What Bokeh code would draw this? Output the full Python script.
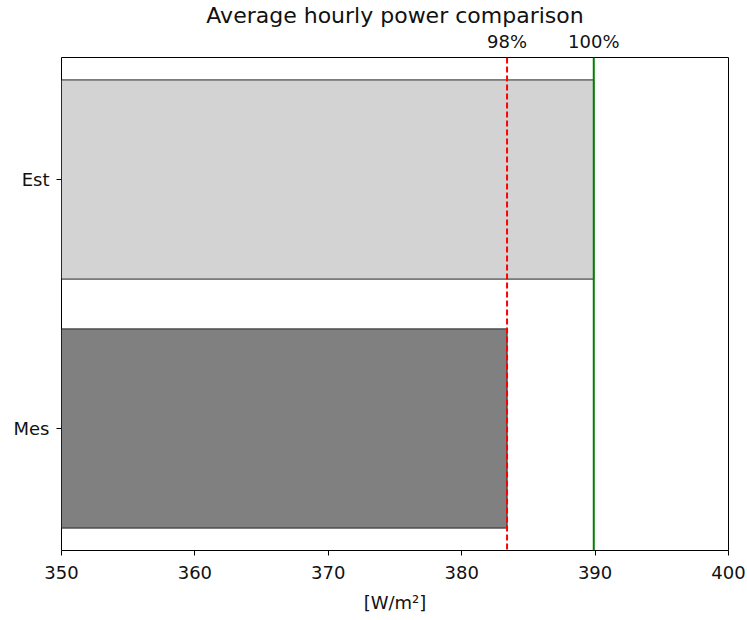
from bokeh.plotting import figure
from bokeh.models import LinearAxis, FixedTicker, Range1d, Span, ColumnDataSource
from bokeh.embed import file_html
from bokeh.resources import INLINE

categories = ["Mes", "Est"]
values = [383.4, 389.9]
colors = ["#808080", "#d3d3d3"]
ref_labels = ["98%", "100%"]
ref_values = [values[0], values[1]]
title_text = "Average hourly power comparison"

FONT = "DejaVu Sans"

ypos = list(range(len(categories)))
src = ColumnDataSource(dict(y=ypos, right=values, color=colors))

p = figure(width=747, height=620, output_backend="svg", toolbar_location=None,
           x_range=Range1d(350, 400), y_range=Range1d(-0.49, 1.49),
           min_border_left=61, min_border_right=19, min_border_top=55, min_border_bottom=70,
           title=title_text)
p.title.align = "center"
p.title.text_font = FONT
p.title.text_font_size = "22px"
p.title.text_font_style = "normal"
p.title.text_color = "#111111"
p.title.standoff = 0
p.title.offset = 0

p.hbar(y="y", left=350, right="right", height=0.8, fill_color="color",
       line_color="#222222", line_width=1, source=src)

p.add_layout(Span(location=ref_values[0], dimension="height", line_color="#ff0000",
                  line_width=2, line_dash="6 3"))
p.add_layout(Span(location=ref_values[1], dimension="height", line_color="#008000",
                  line_width=2))

p.grid.visible = False
p.outline_line_color = "black"
p.outline_line_width = 1

p.xaxis.ticker = FixedTicker(ticks=[350, 360, 370, 380, 390, 400])
p.yaxis.ticker = FixedTicker(ticks=ypos)
p.yaxis.major_label_overrides = {i: c for i, c in enumerate(categories)}
p.xaxis.axis_label = "[W/m²]"
for ax in (p.xaxis[0], p.yaxis[0]):
    ax.axis_line_color = None
    ax.major_tick_in = 0
    ax.major_tick_out = 5
    ax.minor_tick_line_color = None
    ax.major_label_text_font = FONT
    ax.major_label_text_font_size = "18px"
    ax.major_label_text_color = "#111111"
p.yaxis.major_label_standoff = 7
p.xaxis.major_label_standoff = 10
p.xaxis.axis_label_text_font = FONT
p.xaxis.axis_label_text_font_size = "18px"
p.xaxis.axis_label_text_font_style = "normal"
p.xaxis.axis_label_text_color = "#111111"
p.xaxis.axis_label_standoff = 10

top = LinearAxis(ticker=FixedTicker(ticks=ref_values))
top.major_label_overrides = {ref_values[i]: ref_labels[i] for i in range(2)}
top.axis_line_color = None
top.major_tick_line_color = None
top.major_tick_out = 0
top.major_tick_in = 0
top.minor_tick_line_color = None
top.minor_tick_out = 0
top.major_label_text_font = FONT
top.major_label_text_font_size = "18px"
top.major_label_text_color = "#111111"
top.major_label_standoff = 6
p.add_layout(top, "above")

open("out.html", "w").write(file_html(p, INLINE))
